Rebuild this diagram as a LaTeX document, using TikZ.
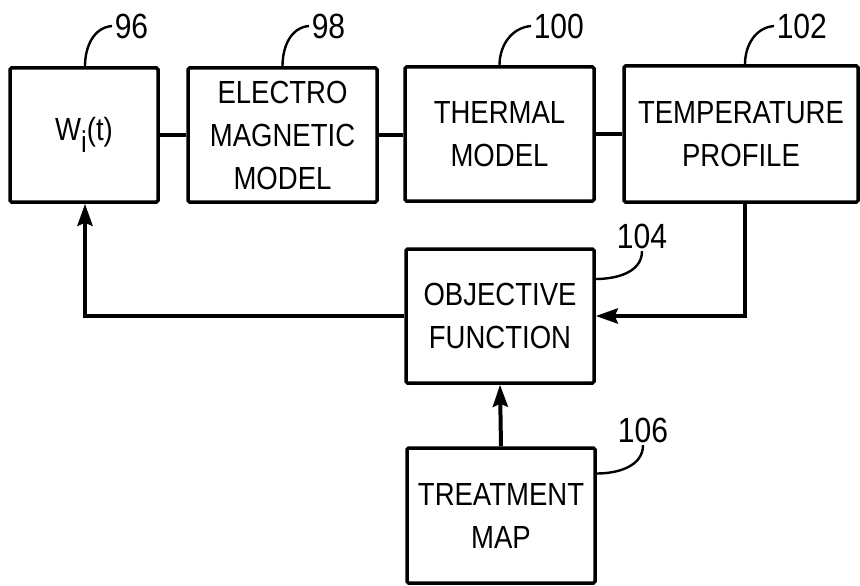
\documentclass[tikz,border=0pt]{standalone}
\usepackage{fontspec}
\setmainfont{Liberation Sans}[FakeStretch=0.86]
\usetikzlibrary{arrows.meta, positioning}
\tikzset{
  % thick patent-drawing lines and narrow arrow tips
  every picture/.append style = {line width=3.5pt},
  block/.style   = {draw=black, line width=3.5pt, rounded corners=1.5pt, inner sep=0,
                    align=center, font=\fontsize{32}{43}\selectfont},
  link/.style    = {line width=4pt},
  flow/.style    = {-{Stealth[length=22pt, width=15pt, inset=3pt]}, line width=4pt},
  leader/.style  = {line width=2.4pt},
  refnum/.style  = {inner sep=1pt, font=\fontsize{35}{35}\selectfont},
}

\begin{document}
\begin{tikzpicture}[x=1pt,y=-1pt,
    wide/.style={minimum width=189pt, minimum height=134pt}]
  \useasboundingbox (0,0) rectangle (860,586);
  % --- top row of blocks ------------------------------------------------
  \node[block, minimum width=148pt, minimum height=134pt] (wbox) at (84,135)
    {W\raisebox{-12pt}{\fontsize{30}{30}\selectfont i}(t)};
  \node[block, wide] (emodel) at (282.5,135) {ELECTRO\\MAGNETIC\\MODEL};
  \node[block, wide] (tmodel) at (499.5,134) {THERMAL\\MODEL};
  \node[block, minimum width=234pt, minimum height=136pt] (tprofile) at (741,134)
    {TEMPERATURE\\PROFILE};
  % --- objective and treatment map --------------------------------------
  \node[block, minimum width=188pt, minimum height=134pt] (objfn) at (500,316)
    {OBJECTIVE\\FUNCTION};
  \node[block, minimum width=188pt, minimum height=135pt] (tmap) at (501,515.5)
    {TREATMENT\\MAP};
  % --- reference numerals -----------------------------------------------
  \node[refnum, anchor=west] (n96)  at (112,26)  {96};
  \node[refnum, anchor=west] (n98)  at (309,26)  {98};
  \node[refnum, anchor=west] (n100) at (531,26)  {100};
  \node[refnum, anchor=west] (n102) at (774,26)  {102};
  \node[refnum] (n104) at (642,236) {104};
  \node[refnum] (n106) at (643,430) {106};
  \draw[leader] ([xshift=1pt]wbox.north) to[out=90, in=185] (n96.west);
  \draw[leader] (emodel.north) to[out=90, in=185] (n98.west);
  \draw[leader] (tmodel.north) to[out=90, in=185] (n100.west);
  \draw[leader] ([xshift=4pt]tprofile.north) to[out=90, in=185] (n102.west);
  \draw[leader] ([yshift=37pt]objfn.east) to[out=0, in=-90] (n104.south);
  \draw[leader] ([yshift=42pt]tmap.east) to[out=0, in=-90] (n106.south);
  % --- connectors -------------------------------------------------------
  \draw[link] (wbox.east) -- (wbox.east -| emodel.west);
  \draw[link] (emodel.east) -- (emodel.east -| tmodel.west);
  \draw[link] (tmodel.east) -- (tprofile.west);
  \draw[flow] ([xshift=4pt]tprofile.south) |- (objfn.east);
  \draw[flow] (objfn.west) -| ([xshift=1pt]wbox.south);
  \draw[flow] (tmap.north) -- (objfn.south);
\end{tikzpicture}
\end{document}
